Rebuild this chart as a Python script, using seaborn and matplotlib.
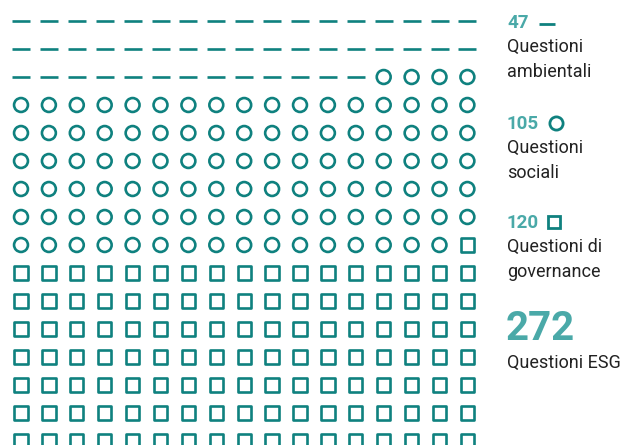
import numpy as np
import pandas as pd
import matplotlib.pyplot as plt
import seaborn as sns

sns.set_theme(style="white")
plt.rcParams['font.family'] = ['Liberation Sans Narrow', 'Roboto', 'DejaVu Sans']

# dati
categorie = ['Questioni ambientali', 'Questioni sociali', 'Questioni di governance']
conteggi = [47, 105, 120]
marcatori = ['_', 'o', 's']
etichette = [['Questioni', 'ambientali'], ['Questioni', 'sociali'], ['Questioni di', 'governance']]
n_colonne = 17

TEAL = '#0f817f'
TEAL_CHIARO = '#4aa9a8'
TESTO = '#222222'

# griglia: una cella per ogni questione, riempita riga per riga
tipi = np.repeat(np.arange(len(categorie)), conteggi)
idx = np.arange(len(tipi))
df = pd.DataFrame({
    'colonna': idx % n_colonne,
    'riga': idx // n_colonne,
    'categoria': [categorie[t] for t in tipi],
})
n_righe = df['riga'].max() + 1

W, H = 631, 445
fig = plt.figure(figsize=(W / 100, H / 100), dpi=100)

# assi della griglia (in pixel: passo ~27.9 orizzontale, 28 verticale)
px_x, px_y = 27.9, 28.0
left = 21 - px_x / 2
top = 21 - px_y / 2
ax = fig.add_axes([left / W, 1 - (top + n_righe * px_y) / H,
                   n_colonne * px_x / W, n_righe * px_y / H])

for cat, m in zip(categorie, marcatori):
    sub = df[df['categoria'] == cat]
    if m == '_':
        sns.scatterplot(data=sub, x='colonna', y='riga', marker=m, s=150,
                        color=TEAL, linewidth=1.9, ax=ax, legend=False)
    else:
        sns.scatterplot(data=sub, x='colonna', y='riga', marker=m,
                        s=100 if m == 'o' else 92,
                        facecolor='none', edgecolor=TEAL, linewidth=1.9,
                        ax=ax, legend=False)

ax.set_xlim(-0.5, n_colonne - 0.5)
ax.set_ylim(n_righe - 0.5, -0.5)
ax.axis('off')

# testo a destra, in coordinate pixel
tx = fig.add_axes([0, 0, 1, 1])
tx.set_xlim(0, W)
tx.set_ylim(H, 0)
tx.axis('off')

x0 = 507
blocchi_y = [28, 129, 228]
marker_x = [547, 556, 554]
for i, (n, lab, m) in enumerate(zip(conteggi, etichette, marcatori)):
    y = blocchi_y[i]
    tx.text(x0, y, str(n), fontsize=13.5, fontweight='bold', color=TEAL_CHIARO,
            va='baseline', ha='left')
    if m == '_':
        tx.plot([marker_x[i]], [y - 4], marker='_', markersize=12,
                markeredgewidth=2, color=TEAL)
    else:
        tx.plot([marker_x[i]], [y - 6], marker=m, markersize=9.5 if m == 'o' else 9,
                markerfacecolor='none', markeredgecolor=TEAL, markeredgewidth=2)
    for j, riga in enumerate(lab):
        tx.text(x0, y + 24 + j * 25, riga, fontsize=13, color=TESTO,
                va='baseline', ha='left')

tx.text(x0 - 1, 340, str(sum(conteggi)), fontsize=29, fontweight='bold',
        color=TEAL_CHIARO, va='baseline', ha='left')
tx.text(x0, 368, 'Questioni ESG', fontsize=13, color=TESTO,
        va='baseline', ha='left')

fig.savefig('out.png', dpi=100)
plt.close(fig)
